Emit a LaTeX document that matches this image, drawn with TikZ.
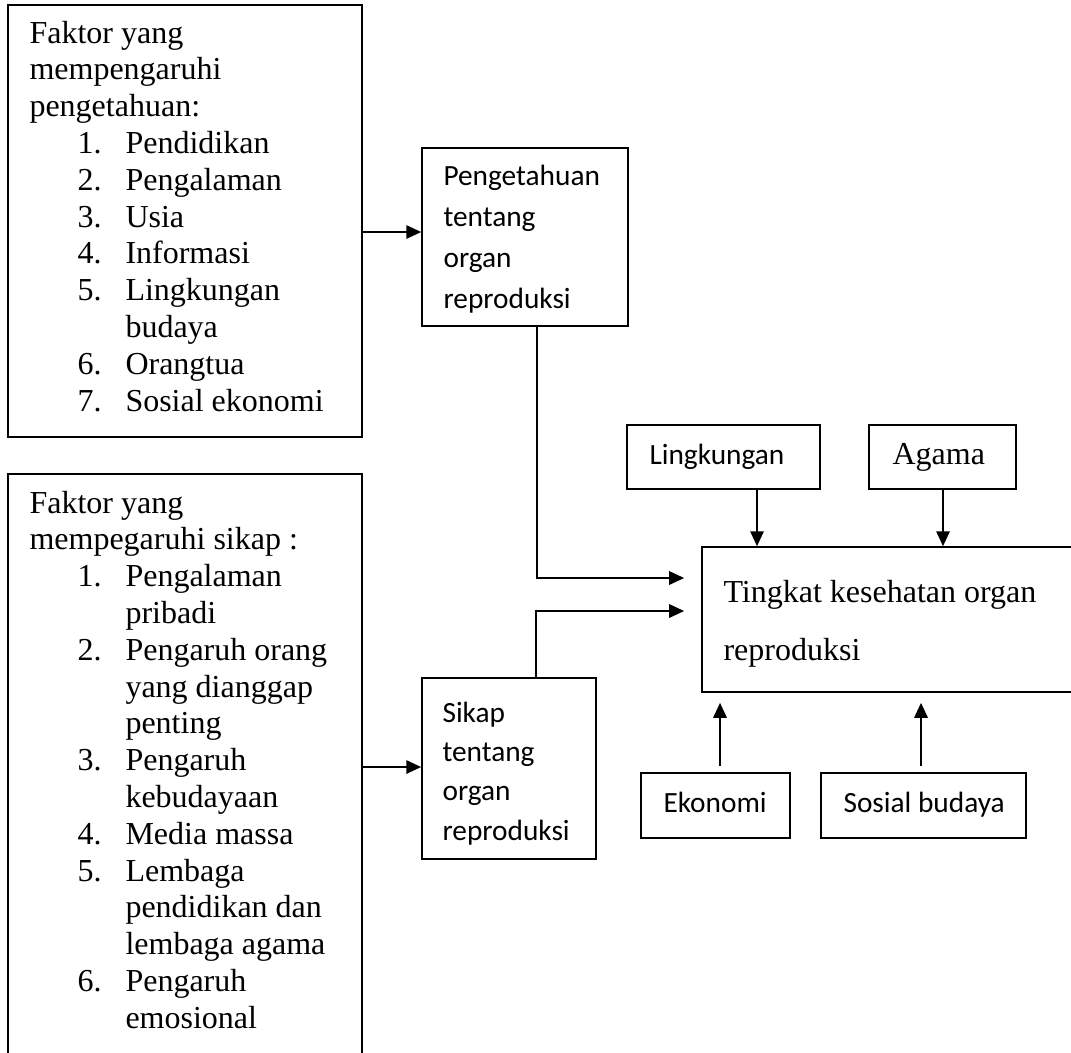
\documentclass[tikz,border=0pt]{standalone}
\usepackage{fontspec}
\setmainfont{Liberation Serif}
\newfontfamily\calibrifont{Carlito}
\usetikzlibrary{arrows.meta,fit}
\newcommand{\litem}[1]{\hspace*{18pt}\makebox[18pt][l]{#1}}
\newcommand{\lcont}{\hspace*{36pt}}
\begin{document}
\begin{tikzpicture}[x=0.375pt,y=-0.375pt,
  box/.style={draw,line width=0.6pt,inner sep=0pt},
  txt/.style={anchor=base west,inner sep=0pt},
  conn/.style={line width=0.75pt,-{Triangle[length=5.6pt,width=5pt]}},
  line/.style={line width=0.75pt}]
\useasboundingbox (0,0) rectangle (1071,1052);
\clip (0,0) rectangle (1071,1052);
% boxes
\node[box,fit={(8,5) (362,437)}] (fk) {};
\node[box,fit={(8,474) (362,1080)}] (fs) {};
\node[box,fit={(422,148) (628,326)}] (pg) {};
\node[box,fit={(422,678) (596,859)}] (sk) {};
\node[box,fit={(702,547) (1090,692)}] (tk) {};
\node[box,fit={(627,425) (820,489)}] (lk) {};
\node[box,fit={(869,425) (1016,489)}] (ag) {};
\node[box,fit={(641,773) (790,838)}] (ek) {};
\node[box,fit={(821,773) (1026,838)}] (sb) {};
% texts
\node[txt] (fkt) at (29,43) {\parbox[t]{140pt}{\fontsize{12pt}{13.8pt}\selectfont
Faktor yang\\
mempengaruhi\\
pengetahuan:\\
\litem{1.}Pendidikan\\
\litem{2.}Pengalaman\\
\litem{3.}Usia\\
\litem{4.}Informasi\\
\litem{5.}Lingkungan\\
\lcont budaya\\
\litem{6.}Orangtua\\
\litem{7.}Sosial ekonomi}};
\node[txt] (fst) at (29,513) {\parbox[t]{140pt}{\fontsize{12pt}{13.8pt}\selectfont
Faktor yang\\
mempegaruhi sikap :\\
\litem{1.}Pengalaman\\
\lcont pribadi\\
\litem{2.}Pengaruh orang\\
\lcont yang dianggap\\
\lcont penting\\
\litem{3.}Pengaruh\\
\lcont kebudayaan\\
\litem{4.}Media massa\\
\litem{5.}Lembaga\\
\lcont pendidikan dan\\
\lcont lembaga agama\\
\litem{6.}Pengaruh\\
\lcont emosional}};
\node[txt] (pgt) at (443,185) {\parbox[t]{70pt}{\calibrifont\fontsize{11pt}{15.4pt}\selectfont
Pengetahuan\\ tentang\\ organ\\ reproduksi}};
\node[txt] (skt) at (442,722) {\parbox[t]{70pt}{\calibrifont\fontsize{11pt}{14.8pt}\selectfont
Sikap\\ tentang\\ organ\\ reproduksi}};
\node[txt] (tkt) at (723,602) {\parbox[t]{140pt}{\fontsize{12pt}{22.1pt}\selectfont
Tingkat kesehatan organ\\ reproduksi}};
\node[txt,font=\calibrifont\fontsize{11pt}{13pt}\selectfont] (lkt) at (649,464) {Lingkungan};
\node[txt,font=\fontsize{12pt}{14pt}\selectfont] (agt) at (892,464) {Agama};
\node[txt,font=\calibrifont\fontsize{11pt}{13pt}\selectfont] (ekt) at (663,812) {Ekonomi};
\node[txt,font=\calibrifont\fontsize{11pt}{13pt}\selectfont] (sbt) at (843,812) {Sosial budaya};
% coordinates
\coordinate (a1) at (0,232);
\coordinate (a2) at (0,767);
\coordinate (v1) at (537,578);
\coordinate (v2) at (536,611);
\coordinate (xl) at (757,0);
\coordinate (xa) at (943,0);
\coordinate (xe) at (720,0);
\coordinate (xs) at (921,0);
% connectors
\draw[conn] (fk.east |- a1) -- (pg.west |- a1);
\draw[conn] (fs.east |- a2) -- (sk.west |- a2);
\draw[conn,shorten >=6.4pt] (pg.south -| v1) |- (tk.west |- v1);
\draw[conn,shorten >=6.4pt] (sk.north -| v2) |- (tk.west |- v2);
\draw[conn] (lk.south -| xl) -- (tk.north -| xl);
\draw[conn] (ag.south -| xa) -- (tk.north -| xa);
\draw[conn,shorten <=2.25pt,shorten >=3.75pt] (ek.north -| xe) -- (tk.south -| xe);
\draw[conn,shorten <=2.25pt,shorten >=3.75pt] (sb.north -| xs) -- (tk.south -| xs);
\end{tikzpicture}
\end{document}
